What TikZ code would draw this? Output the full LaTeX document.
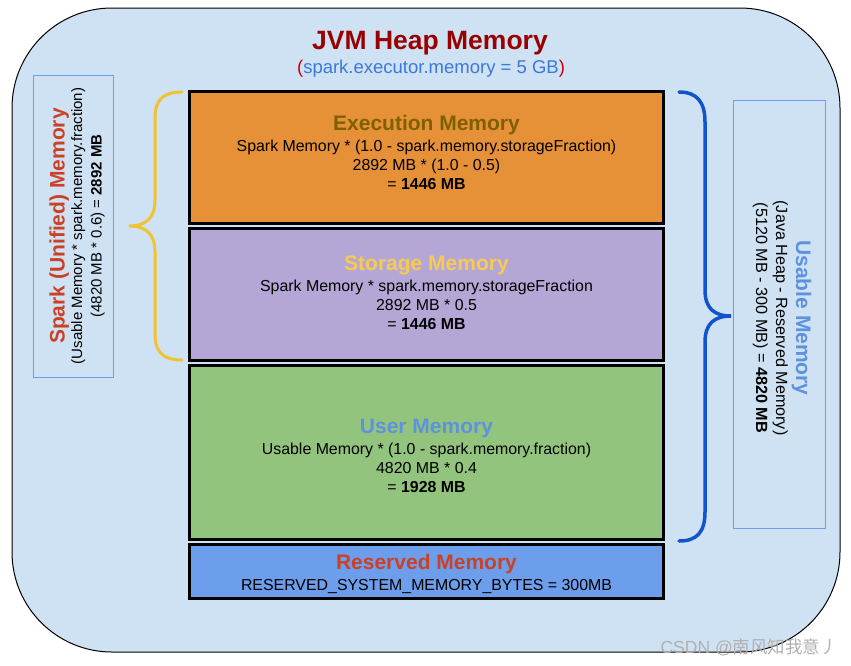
\documentclass[tikz,border=0pt]{standalone}
\usepackage{fontspec}
\setmainfont{Liberation Sans}
\newfontfamily\cjk{Noto Sans CJK SC}
\definecolor{bgblue}{HTML}{CFE2F3}
\definecolor{execorange}{HTML}{E69138}
\definecolor{storagepurple}{HTML}{B4A7D6}
\definecolor{usergreen}{HTML}{93C47D}
\definecolor{reservedblue}{HTML}{6D9EEB}
\definecolor{exectitle}{HTML}{7F6000}
\definecolor{storagetitle}{HTML}{F8CB4E}
\definecolor{usertitle}{HTML}{5E92DE}
\definecolor{redtitle}{HTML}{CC4125}
\definecolor{darkred}{HTML}{990000}
\definecolor{subblue}{HTML}{3C78D8}
\definecolor{subred}{HTML}{CC0000}
\definecolor{sideborder}{HTML}{6D9EEB}
\definecolor{braceyellow}{HTML}{F1C232}
\definecolor{braceblue}{HTML}{1155CC}
\definecolor{wmgray}{HTML}{B0B0B0}
\newcommand{\blocktitlefont}{\fontsize{21}{23}\selectfont\bfseries}
\begin{document}
\begin{tikzpicture}[x=1pt,y=-1pt,
  outer/.style={draw=black, line width=1pt, fill=bgblue, rounded corners=100pt},
  block/.style={draw=black, line width=3pt, minimum width=474pt, inner sep=0pt},
  blocktext/.style={align=center, font=\fontsize{15.9}{19}\selectfont, text=black, inner sep=0pt},
  sidebox/.style={draw=sideborder, line width=0.8pt, inner sep=0pt},
  sidetext/.style={align=center, inner sep=0pt, text=black},
  bracey/.style={draw=braceyellow, line width=3pt, line cap=round},
  braceb/.style={draw=braceblue, line width=3.5pt, line cap=round}]
\useasboundingbox (0,0) rectangle (851,665);
\draw[outer] (12,8) rectangle (840,652);

\node[inner sep=0pt, font=\fontsize{26.5}{30}\selectfont\bfseries, text=darkred] (title) at (430,43) {JVM Heap Memory};
\node[inner sep=0pt, font=\fontsize{18.5}{22}\selectfont, text=subred] (subtitle) at (431,69) {(\textcolor{subblue}{spark.executor.memory = 5 GB})};

\node[block, fill=execorange, minimum height=132pt] (exec) at (426.5,157.5) {};
\node[block, fill=storagepurple, minimum height=132pt] (storage) at (426.5,294.5) {};
\node[block, fill=usergreen, minimum height=174pt] (user) at (426.5,452.5) {};
\node[block, fill=reservedblue, minimum height=54pt] (reserved) at (426.5,571.5) {};

\node[blocktext] (exectxt) at (426.5,152) {{\blocktitlefont\color{exectitle}Execution Memory}\\[2pt]
  Spark Memory * (1.0 - spark.memory.storageFraction)\\
  2892 MB * (1.0 - 0.5)\\
  = \textbf{1446 MB}};
\node[blocktext] (storagetxt) at (426.5,293) {{\blocktitlefont\color{storagetitle}Storage Memory}\\[2pt]
  Spark Memory * spark.memory.storageFraction\\
  2892 MB * 0.5\\
  = \textbf{1446 MB}};
\node[blocktext] (usertxt) at (426.5,456) {{\blocktitlefont\color{usertitle}User Memory}\\[2pt]
  Usable Memory * (1.0 - spark.memory.fraction)\\
  4820 MB * 0.4\\
  = \textbf{1928 MB}};
\node[blocktext] (reservedtxt) at (426.5,574) {{\blocktitlefont\color{redtitle}Reserved Memory}\\[2pt]
  RESERVED\_SYSTEM\_MEMORY\_BYTES = 300MB};

\node[sidebox, minimum width=80pt, minimum height=302pt] (sparkbox) at (73,226) {};
\node[sidetext, rotate=90, font=\fontsize{15}{19.5}\selectfont] (sparktxt) at (77,226) {{\blocktitlefont\color{redtitle}Spark (Unified) Memory}\\[-2pt]
  (Usable Memory * spark.memory.fraction)\\
  (4820 MB * 0.6) = \textbf{2892 MB}};

\node[sidebox, minimum width=92pt, minimum height=428pt] (usablebox) at (779,314) {};
\node[sidetext, rotate=-90, font=\fontsize{16.2}{20}\selectfont] (usabletxt) at (782,318) {{\blocktitlefont\color{usertitle}Usable Memory}\\[0pt]
  (Java Heap - Reserved Memory)\\
  (5120 MB - 300 MB) = \textbf{4820 MB}};

\draw[bracey] (182,92) .. controls (163,92) and (155,100) .. (155,118) -- (155,200)
  .. controls (155,218) and (146,226) .. (129,226)
  .. controls (146,226) and (155,234) .. (155,252) -- (155,334)
  .. controls (155,352) and (163,360) .. (182,360);
\draw[braceb] (679,92) .. controls (697,92) and (705,102) .. (705,122) -- (705,290)
  .. controls (705,308) and (714,316) .. (731,316)
  .. controls (714,316) and (705,324) .. (705,342) -- (705,512)
  .. controls (705,532) and (697,541) .. (679,541);

\node[inner sep=0pt, anchor=east, font=\fontsize{17.5}{20}\selectfont, text=wmgray] (wm) at (838,647) {CSDN @{\cjk 南风知我意丿}};
\end{tikzpicture}
\end{document}
